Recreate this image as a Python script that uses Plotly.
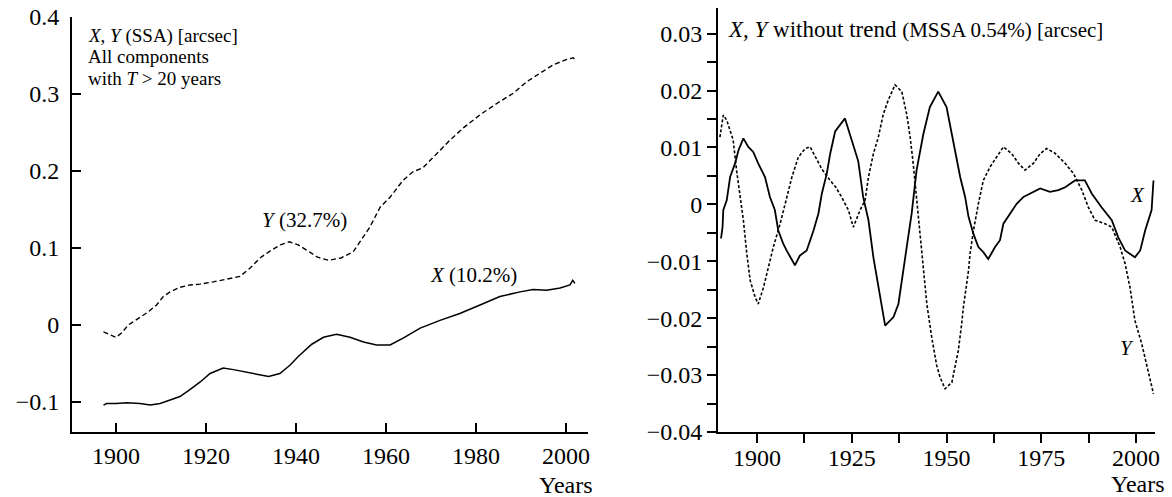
import plotly.graph_objects as go

# ---------------- Left panel data (SSA, T > 20 years) ----------------
left_y_years = [1897.2, 1898.5, 1900.0, 1901.3, 1902.7, 1903.8, 1905.5, 1906.9, 1909.0, 1910.5,
                1912.0, 1914.2, 1916.4, 1918.7, 1921.6, 1924.6, 1927.5, 1929.8, 1932.0, 1934.2,
                1936.5, 1938.5, 1940.5, 1942.4, 1944.8, 1947.2, 1950.0, 1952.7, 1954.5, 1956.4,
                1958.7, 1960.9, 1963.8, 1966.0, 1968.2, 1971.3, 1974.2, 1977.2, 1980.9, 1984.7,
                1988.3, 1991.3, 1994.2, 1997.2, 2000.2, 2001.6, 2002.0]
left_y_vals = [-0.009, -0.012, -0.016, -0.010, 0.000, 0.004, 0.010, 0.016, 0.026, 0.037,
               0.043, 0.049, 0.052, 0.053, 0.056, 0.060, 0.063, 0.074, 0.087, 0.096,
               0.104, 0.108, 0.104, 0.097, 0.088, 0.084, 0.087, 0.095, 0.110, 0.127,
               0.153, 0.166, 0.188, 0.199, 0.204, 0.223, 0.240, 0.256, 0.273, 0.288,
               0.301, 0.316, 0.327, 0.338, 0.345, 0.347, 0.345]

left_x_years = [1897.2, 1897.9, 1900.0, 1902.4, 1905.3, 1907.6, 1909.8, 1912.0, 1914.2, 1916.4,
                1918.7, 1920.9, 1923.8, 1926.1, 1929.0, 1932.0, 1933.9, 1936.4, 1938.7, 1940.5,
                1943.5, 1946.1, 1949.0, 1952.0, 1955.0, 1957.9, 1960.9, 1963.8, 1967.6, 1972.0,
                1976.4, 1980.9, 1985.3, 1989.8, 1992.7, 1995.7, 1998.7, 2000.9, 2001.5, 2002.0]
left_x_vals = [-0.104, -0.102, -0.102, -0.101, -0.102, -0.104, -0.102, -0.097, -0.093, -0.084,
               -0.074, -0.063, -0.056, -0.058, -0.061, -0.065, -0.067, -0.063, -0.052, -0.041,
               -0.025, -0.016, -0.012, -0.016, -0.022, -0.026, -0.026, -0.017, -0.004, 0.006,
               0.015, 0.026, 0.037, 0.043, 0.046, 0.045, 0.048, 0.052, 0.058, 0.054]

left_xticks = [1900, 1920, 1940, 1960, 1980, 2000]
left_yticks = [-0.1, 0, 0.1, 0.2, 0.3, 0.4]
left_yticktext = ["\u22120.1", "0", "0.1", "0.2", "0.3", "0.4"]

# ---------------- Right panel data (without trend, MSSA) ----------------
right_x_years = [1890.5, 1890.9, 1891.1, 1892.0, 1892.9, 1894.2, 1895.1, 1896.4, 1897.7, 1899.0,
                 1900.3, 1902.1, 1903.4, 1904.7, 1905.6, 1906.9, 1907.8, 1910.0, 1911.3, 1913.1,
                 1914.9, 1916.2, 1917.1, 1918.4, 1919.3, 1920.6, 1923.2, 1925.0, 1926.7, 1928.0,
                 1929.4, 1930.7, 1932.5, 1933.8, 1936.0, 1937.3, 1939.1, 1940.8, 1942.1, 1943.9,
                 1945.6, 1947.8, 1950.0, 1951.5, 1953.6, 1954.9, 1955.8, 1957.1, 1958.4, 1959.7,
                 1961.0, 1962.8, 1964.1, 1965.0, 1966.8, 1968.5, 1970.3, 1972.9, 1974.7, 1977.3,
                 1979.5, 1981.3, 1983.9, 1986.5, 1988.3, 1990.9, 1993.6, 1995.3, 1997.1, 1999.7,
                 2001.1, 2002.4, 2004.1, 2004.6]
right_x_vals = [-0.0060, -0.0040, -0.0010, 0.0007, 0.0048, 0.0072, 0.0095, 0.0116, 0.0101, 0.0092,
                0.0072, 0.0048, 0.0013, -0.0010, -0.0046, -0.0069, -0.0081, -0.0107, -0.0090, -0.0081,
                -0.0046, -0.0016, 0.0019, 0.0054, 0.0089, 0.0128, 0.0151, 0.0113, 0.0076, 0.0013,
                -0.0028, -0.0093, -0.0163, -0.0213, -0.0198, -0.0175, -0.0093, -0.0016, 0.0060, 0.0124,
                0.0171, 0.0198, 0.0171, 0.0120, 0.0048, 0.0013, -0.0022, -0.0052, -0.0075, -0.0084,
                -0.0096, -0.0075, -0.0063, -0.0034, -0.0016, 0.0001, 0.0013, 0.0022, 0.0028, 0.0022,
                0.0025, 0.0030, 0.0042, 0.0042, 0.0019, -0.0005, -0.0028, -0.0058, -0.0081, -0.0093,
                -0.0081, -0.0046, -0.0010, 0.0042]

right_y_years = [1890.2, 1890.6, 1891.1, 1892.0, 1892.9, 1893.7, 1894.6, 1895.5, 1896.4, 1897.3,
                 1898.2, 1899.5, 1900.3, 1901.7, 1903.0, 1904.3, 1906.1, 1907.4, 1909.2, 1910.9,
                 1912.7, 1914.0, 1915.3, 1917.1, 1919.3, 1920.8, 1922.3, 1924.1, 1925.4, 1927.2,
                 1928.5, 1929.4, 1930.7, 1932.0, 1933.3, 1934.6, 1936.4, 1938.2, 1939.5, 1940.4,
                 1941.2, 1942.1, 1943.0, 1943.9, 1944.8, 1946.1, 1947.4, 1948.3, 1949.6, 1951.4,
                 1952.2, 1953.1, 1954.0, 1954.4, 1955.3, 1955.8, 1956.2, 1957.1, 1958.4, 1959.7,
                 1961.5, 1963.2, 1965.0, 1967.2, 1969.0, 1970.7, 1972.9, 1974.7, 1976.4, 1978.6,
                 1981.3, 1983.5, 1985.7, 1987.4, 1989.2, 1991.8, 1993.6, 1995.8, 1997.1, 1998.4,
                 1999.7, 2001.5, 2002.8, 2004.6]
right_y_vals = [0.0118, 0.0140, 0.0157, 0.0148, 0.0130, 0.0113, 0.0060, 0.0019, -0.0028, -0.0087,
                -0.0134, -0.0163, -0.0175, -0.0146, -0.0110, -0.0075, -0.0034, 0.0001, 0.0048, 0.0083,
                0.0098, 0.0101, 0.0085, 0.0062, 0.0042, 0.0030, 0.0013, -0.0010, -0.0040, -0.0010,
                0.0007, 0.0048, 0.0089, 0.0118, 0.0158, 0.0183, 0.0210, 0.0198, 0.0158, 0.0118,
                0.0072, 0.0013, -0.0058, -0.0116, -0.0175, -0.0234, -0.0283, -0.0304, -0.0324, -0.0313,
                -0.0285, -0.0257, -0.0210, -0.0183, -0.0140, -0.0116, -0.0087, -0.0046, 0.0001, 0.0042,
                0.0066, 0.0083, 0.0101, 0.0089, 0.0072, 0.0060, 0.0072, 0.0089, 0.0098, 0.0090,
                0.0072, 0.0054, 0.0025, -0.0005, -0.0028, -0.0034, -0.0040, -0.0075, -0.0104, -0.0146,
                -0.0204, -0.0245, -0.0282, -0.0333]

right_xticks = [1900, 1925, 1950, 1975, 2000]
right_xminor = [1912.5, 1937.5, 1962.5, 1987.5]
right_yticks = [-0.04, -0.03, -0.02, -0.01, 0, 0.01, 0.02, 0.03]
right_yticktext = ["\u22120.04", "\u22120.03", "\u22120.02", "\u22120.01", "0", "0.01", "0.02", "0.03"]
right_yminor = [-0.035, -0.025, -0.015, -0.005, 0.005, 0.015, 0.025]

# ---------------- Figure ----------------
W, H = 1172, 497
FONT = "Liberation Serif, Times New Roman, serif"


def px_x(p):
    return p / W


def px_y(p):
    return (H - p) / H


fig = go.Figure()

fig.add_trace(go.Scatter(x=left_y_years, y=left_y_vals, mode="lines",
                         line=dict(color="black", width=1.4, dash="5px,3px"),
                         xaxis="x", yaxis="y", showlegend=False))
fig.add_trace(go.Scatter(x=left_x_years, y=left_x_vals, mode="lines",
                         line=dict(color="black", width=1.5),
                         xaxis="x", yaxis="y", showlegend=False))
fig.add_trace(go.Scatter(x=right_y_years, y=right_y_vals, mode="lines",
                         line=dict(color="black", width=1.6, dash="3px,2px"),
                         xaxis="x2", yaxis="y2", showlegend=False))
fig.add_trace(go.Scatter(x=right_x_years, y=right_x_vals, mode="lines",
                         line=dict(color="black", width=1.8),
                         xaxis="x2", yaxis="y2", showlegend=False))

tickfont = dict(family=FONT, size=24, color="black")
axis_common = dict(showgrid=False, zeroline=False, showline=True, linecolor="black",
                   linewidth=1.8, tickcolor="black", tickwidth=1.6, tickfont=tickfont,
                   automargin=False)

fig.update_layout(
    template="none",
    width=W, height=H,
    margin=dict(l=0, r=0, t=0, b=0, pad=0),
    paper_bgcolor="white", plot_bgcolor="white",
    font=dict(family=FONT, color="black"),
    xaxis=dict(domain=[px_x(72), px_x(588)], range=[1890.2, 2004.9], anchor="y",
               tickmode="array", tickvals=left_xticks, ticks="inside", ticklen=9,
               ticklabelstandoff=1, **axis_common),
    yaxis=dict(domain=[px_y(432), px_y(17)], range=[-0.139, 0.4], anchor="x",
               tickmode="array", tickvals=left_yticks, ticktext=left_yticktext,
               ticks="inside", ticklen=9, ticklabelstandoff=6, **axis_common),
    xaxis2=dict(domain=[px_x(718), px_x(1155)], range=[1889.7, 2005], anchor="y2",
                tickmode="array", tickvals=right_xticks, ticks="outside", ticklen=9,
                ticklabelstandoff=-6,
                minor=dict(tickvals=right_xminor, ticks="outside",
                           ticklen=9, tickcolor="black", tickwidth=1.6),
                **axis_common),
    yaxis2=dict(domain=[px_y(432), px_y(8)], range=[-0.04, 0.0345], anchor="x2",
                tickmode="array", tickvals=right_yticks, ticktext=right_yticktext,
                ticks="outside", ticklen=9,
                minor=dict(tickvals=right_yminor, ticks="outside",
                           ticklen=9, tickcolor="black", tickwidth=1.6),
                **axis_common),
)

ann_font = dict(family=FONT, size=21, color="black")
blk_font = dict(family=FONT, size=19, color="black")
annotations = [
    # left panel text block
    dict(x=px_x(86), y=px_y(36), xref="paper", yref="paper", xanchor="left", yanchor="middle",
         text="<i>X</i>, <i>Y</i> (SSA) [arcsec]", showarrow=False, font=blk_font),
    dict(x=px_x(86), y=px_y(57), xref="paper", yref="paper", xanchor="left", yanchor="middle",
         text="All components", showarrow=False, font=blk_font),
    dict(x=px_x(86), y=px_y(78), xref="paper", yref="paper", xanchor="left", yanchor="middle",
         text="with <i>T</i> > 20 years", showarrow=False, font=blk_font),
    # curve labels left
    dict(x=1932.0, y=0.136, xref="x", yref="y", xanchor="left", yanchor="middle",
         text="<i>Y</i> (32.7%)", showarrow=False, font=ann_font),
    dict(x=1969.3, y=0.065, xref="x", yref="y", xanchor="left", yanchor="middle",
         text="<i>X</i> (10.2%)", showarrow=False, font=ann_font),
    dict(x=px_x(595), y=px_y(485), xref="paper", yref="paper", xanchor="right", yanchor="middle",
         text="Years", showarrow=False, font=dict(family=FONT, size=24, color="black")),
    # right panel title
    dict(x=px_x(726), y=px_y(30), xref="paper", yref="paper", xanchor="left", yanchor="middle",
         text="<i>X</i>, <i>Y</i> without trend <span style='font-size:21px'>(MSSA 0.54%) [arcsec]</span>",
         showarrow=False, font=dict(family=FONT, size=23, color="black")),
    dict(x=2000.5, y=0.0016, xref="x2", yref="y2", xanchor="center", yanchor="middle",
         text="<i>X</i>", showarrow=False, font=ann_font),
    dict(x=1997.6, y=-0.0252, xref="x2", yref="y2", xanchor="center", yanchor="middle",
         text="<i>Y</i>", showarrow=False, font=ann_font),
    dict(x=px_x(1167), y=px_y(484), xref="paper", yref="paper", xanchor="right", yanchor="middle",
         text="Years", showarrow=False, font=dict(family=FONT, size=24, color="black")),
]
fig.update_layout(annotations=annotations)

fig.write_html(
    "out.html",
    config={"displayModeBar": False},
    post_script="document.body.style.margin='0';document.body.style.padding='0';"
                "document.documentElement.style.overflow='hidden';",
)
